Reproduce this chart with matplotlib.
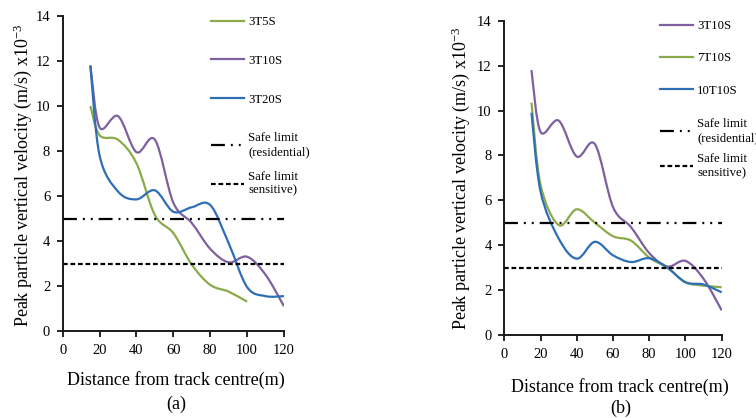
import numpy as np
import matplotlib
matplotlib.use("Agg")
import matplotlib.pyplot as plt
from matplotlib.path import Path
from matplotlib.patches import PathPatch
from matplotlib.lines import Line2D

plt.rcParams["font.family"] = "Liberation Serif"
plt.rcParams["lines.scale_dashes"] = False

# datos
dist = [15, 20, 30, 40, 50, 60, 70, 80, 90, 100, 110, 120]
dist_5s = [15, 20, 30, 40, 50, 60, 70, 80, 90, 100]

t3_5s = [10.0, 8.7, 8.5, 7.45, 5.15, 4.35, 2.95, 2.05, 1.75, 1.3]
t3_10s = [11.8, 9.05, 9.55, 7.95, 8.5, 5.7, 4.8, 3.65, 3.05, 3.3, 2.5, 1.1]
t3_20s = [11.8, 7.8, 6.2, 5.85, 6.25, 5.3, 5.5, 5.6, 3.9, 1.95, 1.55, 1.55]
t7_10s = [10.35, 6.7, 4.9, 5.6, 5.0, 4.4, 4.2, 3.45, 3.0, 2.35, 2.2, 2.13]
t10_10s = [9.9, 6.4, 4.3, 3.4, 4.15, 3.55, 3.25, 3.42, 3.0, 2.35, 2.25, 1.9]

limit_x = [0, 120]
limit_res = [5, 5]
limit_sens = [3, 3]

GREEN = "#8BAA4A"
PURPLE = "#7E5F9F"
BLUE = "#2E6EB5"
LW = 1.6
DASHDOTDOT = (0, (10, 4.3, 1.4, 4.3, 1.4, 4.3))
DASHED = (0, (3.4, 2.0))
FS_LAB = 13
FS_TICK = 10.5
FS_LEG = 9.2


def smooth_path(x, y):
    # curva suavizada tipo Excel (Catmull-Rom en forma de Bezier)
    pts = np.column_stack([x, y]).astype(float)
    n = len(pts)
    verts = [pts[0]]
    codes = [Path.MOVETO]
    for i in range(n - 1):
        p0 = pts[i - 1] if i > 0 else pts[i]
        p1 = pts[i]
        p2 = pts[i + 1]
        p3 = pts[i + 2] if i + 2 < n else pts[i + 1]
        verts += [p1 + (p2 - p0) / 6, p2 - (p3 - p1) / 6, p2]
        codes += [Path.CURVE4] * 3
    return Path(verts, codes)


def setup_axes(ax):
    ax.set_xlim(0, 120)
    ax.set_ylim(0, 14)
    ax.set_xticks(range(0, 121, 20))
    ax.set_yticks(range(0, 15, 2))
    for s in ["top", "right"]:
        ax.spines[s].set_visible(False)
    for s in ["left", "bottom"]:
        ax.spines[s].set_linewidth(1.4)
        ax.spines[s].set_color("#1a1a1a")
    ax.tick_params(direction="out", length=4, width=1.2, labelsize=FS_TICK, pad=5)


def draw(ax, series):
    for x, y, c in series:
        ax.add_patch(PathPatch(smooth_path(x, y), fill=False, edgecolor=c, lw=LW))
    ax.plot(limit_x, limit_res, color="black", lw=1.6, linestyle=DASHDOTDOT)
    ax.plot(limit_x, limit_sens, color="black", lw=1.6, linestyle=DASHED)


W, H = 756, 418
fig = plt.figure(figsize=(W / 100, H / 100), dpi=100)


def fx(px):
    return px / W


def fy(py):
    return 1 - py / H


def add_legends(ax, handles, labels, x0, top1, sp1, top2, sp2):
    leg = ax.legend(handles, labels, loc="upper left",
                    bbox_to_anchor=(fx(x0), fy(top1)), bbox_transform=fig.transFigure,
                    frameon=False, fontsize=FS_LEG, borderpad=0, borderaxespad=0,
                    handlelength=2.6, handletextpad=0.3, labelspacing=sp1)
    ax.add_artist(leg)
    h = [Line2D([], [], color="black", lw=1.6, linestyle=DASHDOTDOT),
         Line2D([], [], color="black", lw=1.6, linestyle=DASHED)]
    ax.legend(h, ["Safe limit\n(residential)", "Safe limit\nsensitive)"], loc="upper left",
              bbox_to_anchor=(fx(x0), fy(top2)), bbox_transform=fig.transFigure,
              frameon=False, fontsize=FS_LEG, borderpad=0, borderaxespad=0,
              handlelength=2.6, handletextpad=0.3, labelspacing=sp2)


ylabel = "Peak particle vertical velocity (m/s) x10$\\mathregular{^{-3}}$"
xlabel = "Distance from track centre(m)"

# ---- panel (a) ----
ax1 = fig.add_axes([fx(62.7), fy(331), fx(284) - fx(62.7), fy(16) - fy(331)])
setup_axes(ax1)
draw(ax1, [(dist_5s, t3_5s, GREEN), (dist, t3_10s, PURPLE), (dist, t3_20s, BLUE)])
add_legends(ax1,
            [Line2D([], [], color=GREEN, lw=LW), Line2D([], [], color=PURPLE, lw=LW),
             Line2D([], [], color=BLUE, lw=LW)],
            ["3T5S", "3T10S", "3T20S"], 211, 16, 2.1, 132, 1.0)

fig.text(fx(23), fy(175), ylabel, rotation=90, ha="center", va="center", fontsize=FS_LAB)
fig.text(fx(176), fy(380), xlabel, ha="center", va="center", fontsize=FS_LAB)
fig.text(fx(176), fy(404), "(a)", ha="center", va="center", fontsize=FS_LAB)

# ---- panel (b) ----
ax2 = fig.add_axes([fx(504.3), fy(335), fx(721.7) - fx(504.3), fy(20.7) - fy(335)])
setup_axes(ax2)
draw(ax2, [(dist, t3_10s, PURPLE), (dist, t7_10s, GREEN), (dist, t10_10s, BLUE)])
add_legends(ax2,
            [Line2D([], [], color=PURPLE, lw=LW), Line2D([], [], color=GREEN, lw=LW),
             Line2D([], [], color=BLUE, lw=LW)],
            ["3T10S", "7T10S", "10T10S"], 660, 20, 1.6, 118, 0.75)

fig.text(fx(461), fy(178), ylabel, rotation=90, ha="center", va="center", fontsize=FS_LAB)
fig.text(fx(620), fy(387), xlabel, ha="center", va="center", fontsize=FS_LAB)
fig.text(fx(621), fy(408), "(b)", ha="center", va="center", fontsize=FS_LAB)

fig.savefig("out.png", dpi=100)
